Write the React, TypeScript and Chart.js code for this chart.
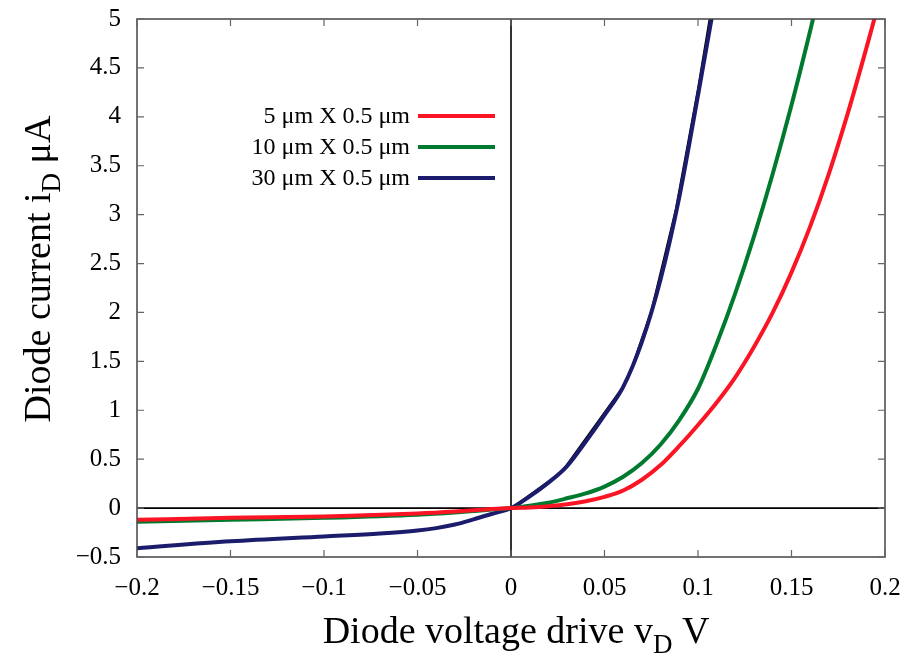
import React, { useEffect, useRef } from "react";
import { Chart, registerables } from "chart.js";

Chart.register(...registerables);

// ---- data ----
const rgX = [-0.2, -0.15, -0.1, -0.05, -0.03, -0.02, -0.01, 0, 0.01, 0.02, 0.03, 0.04, 0.05, 0.06, 0.07, 0.08, 0.09, 0.1, 0.11, 0.12, 0.13, 0.14, 0.15, 0.16, 0.17, 0.18, 0.19, 0.2];
const redY = [-0.12, -0.1, -0.085, -0.055, -0.035, -0.022, -0.01, 0, 0.007, 0.02, 0.04, 0.07, 0.115, 0.18, 0.29, 0.44, 0.635, 0.85, 1.08, 1.34, 1.65, 2.0, 2.41, 2.88, 3.42, 4.03, 4.7, 5.4];
const greenY = [-0.14, -0.12, -0.1, -0.068, -0.045, -0.03, -0.015, 0, 0.025, 0.055, 0.1, 0.15, 0.22, 0.32, 0.46, 0.65, 0.9, 1.22, 1.68, 2.2, 2.78, 3.42, 4.12, 4.88, 5.68];
const blueX = [-0.2, -0.15, -0.1, -0.07, -0.05, -0.04, -0.03, -0.02, -0.01, 0, 0.01, 0.02, 0.03, 0.04, 0.05, 0.06, 0.07, 0.08, 0.09, 0.1, 0.11];
const blueY = [-0.41, -0.34, -0.29, -0.26, -0.23, -0.205, -0.168, -0.115, -0.058, 0, 0.12, 0.26, 0.43, 0.68, 0.95, 1.24, 1.7, 2.34, 3.18, 4.22, 5.3];
const blackX = [-0.2, -0.15, -0.1, -0.07, -0.05, -0.04, -0.03, -0.02, -0.01, 0, 0.027, 0.062, 0.075, 0.088, 0.1, 0.11];
const blackY = [-0.41, -0.34, -0.29, -0.26, -0.23, -0.205, -0.168, -0.115, -0.058, 0, 0.37, 1.3, 2.02, 3.05, 4.3, 5.45];

const seriesLabels = ["5 \u03bcm X 0.5 \u03bcm", "10 \u03bcm X 0.5 \u03bcm", "30 \u03bcm X 0.5 \u03bcm"];
const seriesColors = ["#fb1424", "#007a2e", "#1c1c6c"];
const xTitle = [["Diode voltage drive v", false], ["D", true], [" V", false]] as [string, boolean][];
const yTitle = [["Diode current i", false], ["D", true], [" \u03bcA", false]] as [string, boolean][];

const FONT = "'Liberation Serif', 'Times New Roman', serif";

const pts = (xs: number[], ys: number[]) => xs.map((x, i) => ({ x, y: ys[i] }));

const fmt = (v: any) => {
  const n = Math.round(Number(v) * 100) / 100;
  if (n === 0) return "0";
  return n < 0 ? "\u2212" + String(-n) : String(n);
};

function drawSubText(ctx: CanvasRenderingContext2D, parts: [string, boolean][], size: number) {
  const subSize = Math.round(size * 0.72);
  const widths = parts.map(([t, sub]) => {
    ctx.font = `${sub ? subSize : size}px ${FONT}`;
    return ctx.measureText(t).width;
  });
  const total = widths.reduce((a, b) => a + b, 0);
  let x = -total / 2;
  parts.forEach(([t, sub], i) => {
    ctx.font = `${sub ? subSize : size}px ${FONT}`;
    ctx.fillText(t, x, sub ? size * 0.25 : 0);
    x += widths[i];
  });
}

const framePlugin = {
  id: "gnuframe",
  beforeDatasetsDraw(chart: any) {
    const { ctx, chartArea, scales } = chart;
    const { left, right, top, bottom } = chartArea;
    const x0 = scales.x.getPixelForValue(0);
    const y0 = scales.y.getPixelForValue(0);
    ctx.save();
    ctx.strokeStyle = "#000";
    ctx.lineWidth = 1.6;
    ctx.beginPath();
    ctx.moveTo(left, y0);
    ctx.lineTo(right, y0);
    ctx.moveTo(x0, top);
    ctx.lineTo(x0, bottom);
    ctx.stroke();
    ctx.restore();
  },
  afterDraw(chart: any) {
    const { ctx, chartArea, scales } = chart;
    const { left, right, top, bottom } = chartArea;
    ctx.save();
    // frame
    ctx.strokeStyle = "#444";
    ctx.lineWidth = 1.5;
    ctx.strokeRect(left, top, right - left, bottom - top);
    // inward ticks
    const tl = 7;
    ctx.strokeStyle = "#666";
    ctx.lineWidth = 1.2;
    ctx.beginPath();
    scales.x.ticks.forEach((t: any) => {
      const px = scales.x.getPixelForValue(t.value);
      ctx.moveTo(px, bottom);
      ctx.lineTo(px, bottom - tl);
      ctx.moveTo(px, top);
      ctx.lineTo(px, top + tl);
    });
    scales.y.ticks.forEach((t: any) => {
      const py = scales.y.getPixelForValue(t.value);
      ctx.moveTo(left, py);
      ctx.lineTo(left + tl, py);
      ctx.moveTo(right, py);
      ctx.lineTo(right - tl, py);
    });
    ctx.stroke();

    // axis titles
    ctx.fillStyle = "#000";
    ctx.textBaseline = "alphabetic";
    ctx.textAlign = "left";
    ctx.save();
    ctx.translate(516, 643);
    drawSubText(ctx, xTitle, 38);
    ctx.restore();
    ctx.save();
    ctx.translate(50, 269);
    ctx.rotate(-Math.PI / 2);
    drawSubText(ctx, yTitle, 38);
    ctx.restore();

    // legend (gnuplot style)
    const rows = [116, 147, 178];
    ctx.font = `24px ${FONT}`;
    ctx.textAlign = "right";
    ctx.textBaseline = "middle";
    seriesLabels.forEach((lab, i) => {
      ctx.fillStyle = "#000";
      ctx.fillText(lab, 410, rows[i] + 1);
      ctx.strokeStyle = seriesColors[i];
      ctx.lineWidth = 4;
      ctx.beginPath();
      ctx.moveTo(418, rows[i]);
      ctx.lineTo(495, rows[i]);
      ctx.stroke();
    });
    ctx.restore();
  },
};

export default function App() {
  const ref = useRef<HTMLCanvasElement>(null);
  useEffect(() => {
    if (!ref.current) return;
    const chart = new Chart(ref.current, {
      type: "line",
      data: {
        datasets: [
          { label: seriesLabels[0], data: pts(rgX, redY), borderColor: seriesColors[0], borderWidth: 4, pointRadius: 0, cubicInterpolationMode: "monotone" },
          { label: seriesLabels[1], data: pts(rgX.slice(0, greenY.length), greenY), borderColor: seriesColors[1], borderWidth: 4, pointRadius: 0, cubicInterpolationMode: "monotone" },
          { label: seriesLabels[2], data: pts(blueX, blueY), borderColor: seriesColors[2], borderWidth: 4, pointRadius: 0, cubicInterpolationMode: "monotone" },
          { label: "fit", data: pts(blackX, blackY), borderColor: "#000", borderWidth: 1.6, pointRadius: 0, tension: 0 },
        ],
      } as any,
      options: {
        animation: false,
        responsive: false,
        layout: { padding: { top: 19, right: 24, left: 0, bottom: 0 } },
        plugins: { legend: { display: false }, tooltip: { enabled: false } },
        scales: {
          x: {
            type: "linear",
            min: -0.2,
            max: 0.2,
            grid: { display: false, drawTicks: false },
            border: { display: false },
            ticks: { stepSize: 0.05, callback: fmt, color: "#000", padding: 16, font: { family: FONT, size: 25 }, maxRotation: 0, autoSkip: false },
            afterFit: (s: any) => { s.height = 101; s.paddingLeft = 0; s.paddingRight = 0; },
          },
          y: {
            type: "linear",
            min: -0.5,
            max: 5,
            grid: { display: false, drawTicks: false },
            border: { display: false },
            ticks: { stepSize: 0.5, callback: fmt, color: "#000", padding: 16, font: { family: FONT, size: 25 }, autoSkip: false },
            afterFit: (s: any) => { s.width = 137; s.paddingTop = 0; s.paddingBottom = 0; },
          },
        },
      } as any,
      plugins: [framePlugin],
    });
    return () => chart.destroy();
  }, []);
  return (
    <div style={{ position: "absolute", left: 0, top: 0, width: 909, height: 658, background: "#fff" }}>
      <canvas ref={ref} width={909} height={658} style={{ display: "block" }} />
    </div>
  );
}
